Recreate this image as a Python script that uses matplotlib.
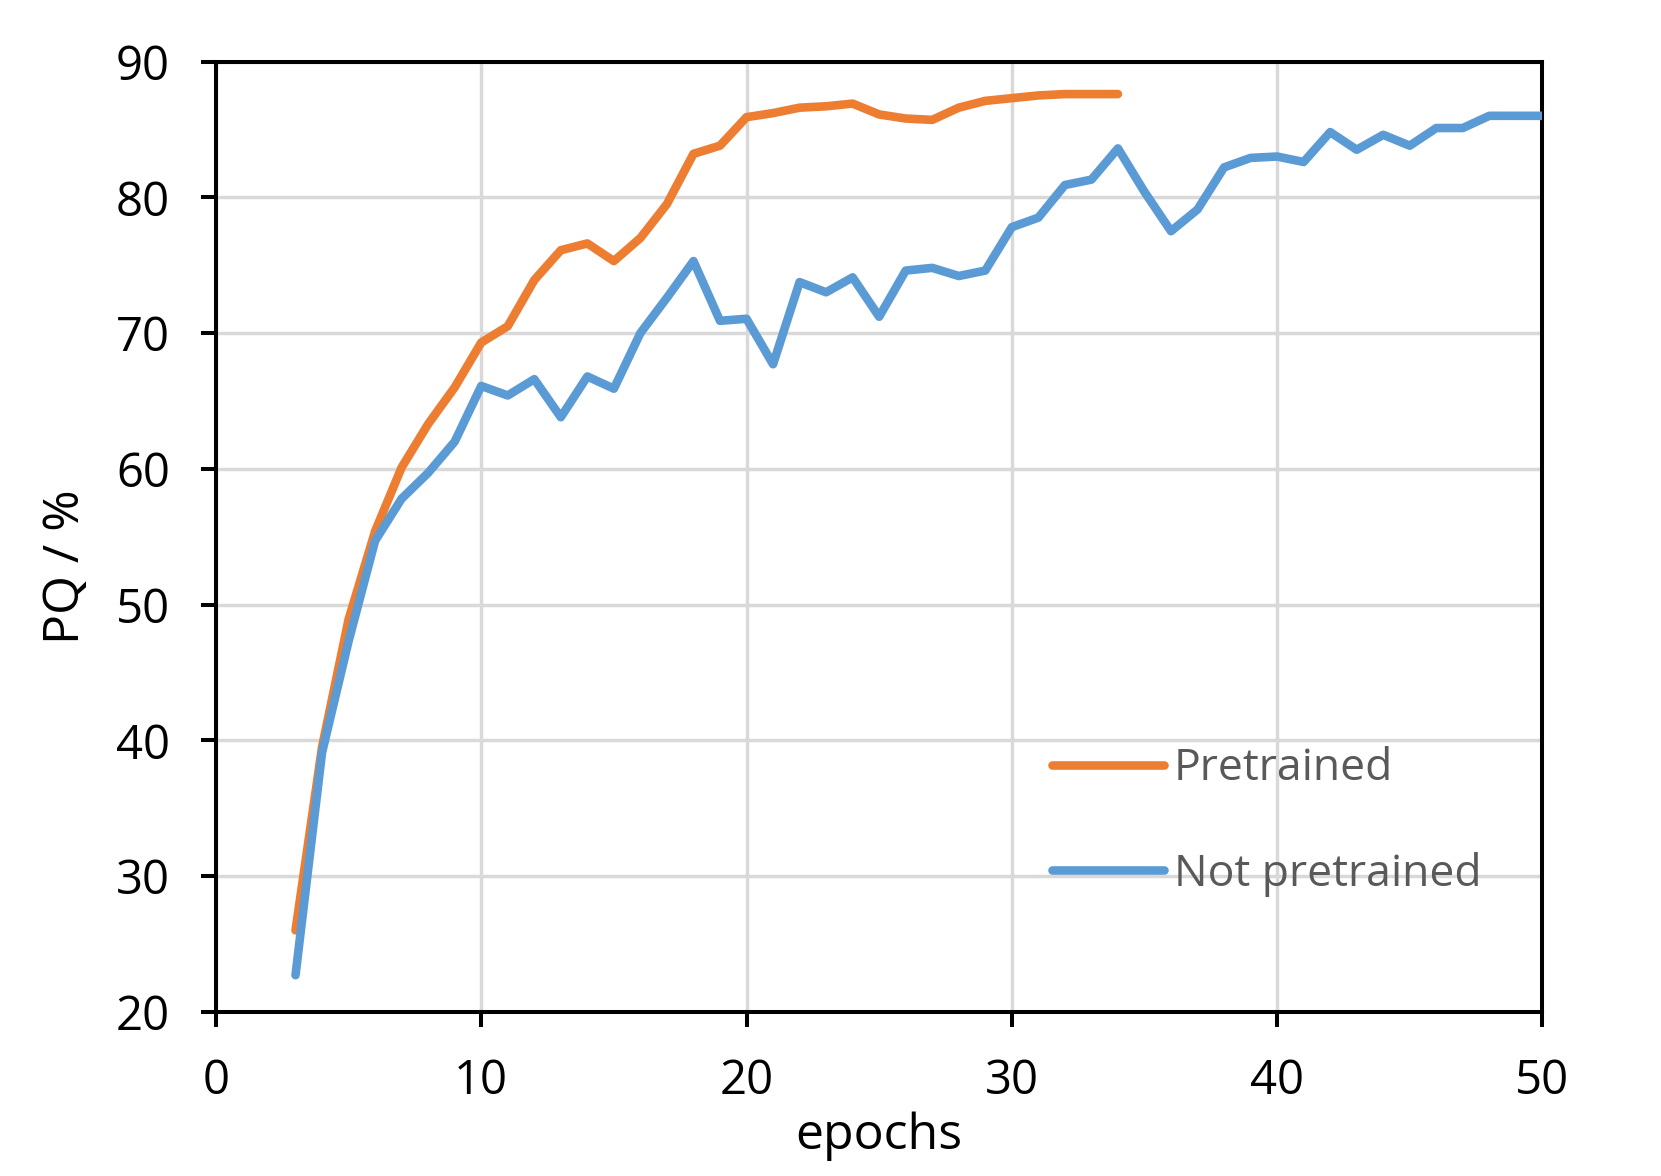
import matplotlib
matplotlib.use("Agg")
import matplotlib.pyplot as plt

epochs_pre = list(range(3, 35))
pq_pre = [26.0, 39.5, 48.9, 55.4, 60.1, 63.3, 66.0, 69.3, 70.5, 73.9,
          76.1, 76.6, 75.3, 77.0, 79.5, 83.2, 83.8, 85.9, 86.2, 86.6,
          86.7, 86.9, 86.1, 85.8, 85.7, 86.6, 87.1, 87.3, 87.5, 87.6,
          87.6, 87.6]

epochs_not = list(range(3, 51))
pq_not = [22.7, 39.1, 47.3, 54.7, 57.8, 59.7, 62.0, 66.1, 65.4, 66.6,
          63.8, 66.8, 65.9, 70.0, 72.6, 75.3, 70.9, 71.05, 67.7, 73.75,
          73.0, 74.1, 71.2, 74.6, 74.8, 74.2, 74.6, 77.8, 78.5, 80.9,
          81.3, 83.6, 80.4, 77.5, 79.1, 82.2, 82.9, 83.0, 82.6, 84.8,
          83.5, 84.6, 83.8, 85.1, 85.1, 86.0, 86.0, 86.0]

x_ticks = [0, 10, 20, 30, 40, 50]
y_ticks = [20, 30, 40, 50, 60, 70, 80, 90]

FONT = ["Open Sans", "DejaVu Sans"]
plt.rcParams['font.family'] = FONT

fig = plt.figure(figsize=(16.61, 11.76), dpi=100)
ax = fig.add_axes([0.130, 0.1396, 0.7986, 0.8081])

ax.plot(epochs_pre, pq_pre, color="#ED7D31", lw=6.2, solid_capstyle="round",
        solid_joinstyle="round", label="Pretrained", zorder=3)
ax.plot(epochs_not, pq_not, color="#5B9BD5", lw=6.2, solid_capstyle="round",
        solid_joinstyle="round", label="Not pretrained", zorder=4)

ax.set_xlim(0, 50)
ax.set_ylim(20, 90)
ax.set_xticks(x_ticks)
ax.set_yticks(y_ticks)
ax.grid(True, color="#d9d9d9", lw=2.5, zorder=0)
ax.set_axisbelow(True)

for s in ax.spines.values():
    s.set_linewidth(2.9)
    s.set_color("black")

ax.tick_params(axis="both", direction="out", length=11, width=2.9,
               labelsize=34, colors="black")
ax.tick_params(axis="x", pad=22)
ax.tick_params(axis="y", pad=22)

ax.set_xlabel("epochs", fontsize=36)
ax.set_ylabel("PQ / %", fontsize=36)
ax.xaxis.set_label_coords(0.5, -0.105)
ax.yaxis.set_label_coords(-0.094, 0.468)

leg = ax.legend(loc="center left", bbox_to_anchor=(0.630, 0.2, ), frameon=False,
                fontsize=32, handlelength=2.53, handletextpad=0.22,
                labelspacing=1.37, borderpad=0, borderaxespad=0)
for t in leg.get_texts():
    t.set_color("#595959")

fig.savefig("out.png", dpi=100)
